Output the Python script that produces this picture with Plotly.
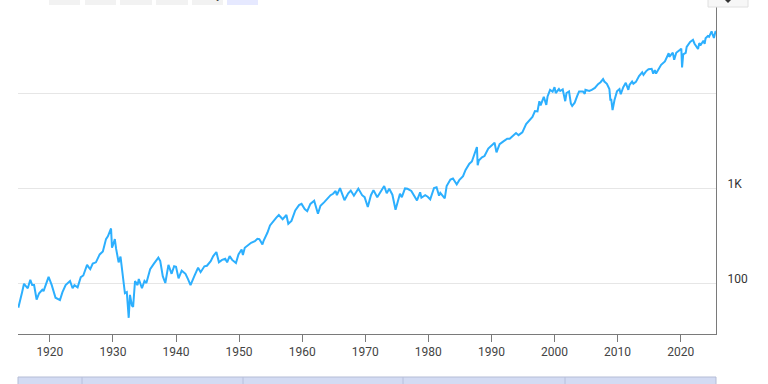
import plotly.graph_objects as go

years = [
    1915.0, 1915.3, 1915.6, 1915.9, 1916.2, 1916.5, 1916.9, 1917.2, 1917.5, 1917.9,
    1918.3, 1918.8, 1919.0, 1919.5, 1919.8, 1920.3, 1920.9, 1921.6, 1922.0, 1922.5,
    1922.9, 1923.2, 1923.6, 1923.9, 1924.4, 1924.9, 1925.3, 1925.9, 1926.2, 1926.4,
    1926.8, 1927.3, 1927.9, 1928.4, 1928.9, 1929.2, 1929.7, 1929.85, 1930.0, 1930.3,
    1930.5, 1930.9, 1931.2, 1931.5, 1931.9, 1932.2, 1932.5, 1932.7, 1933.0, 1933.2,
    1933.5, 1933.9, 1934.1, 1934.6, 1935.0, 1935.3, 1935.9, 1936.5, 1937.2, 1937.5,
    1937.9, 1938.3, 1938.8, 1939.3, 1939.7, 1940.0, 1940.4, 1940.9, 1941.5, 1941.9,
    1942.3, 1942.9, 1943.5, 1943.9, 1944.5, 1944.9, 1945.5, 1945.9, 1946.4, 1946.8,
    1947.3, 1947.8, 1948.1, 1948.5, 1948.9, 1949.5, 1949.9, 1950.4, 1950.6, 1950.9,
    1951.5, 1951.9, 1952.5, 1952.9, 1953.2, 1953.7, 1953.9, 1954.5, 1954.9, 1955.5,
    1955.9, 1956.3, 1956.9, 1957.5, 1957.8, 1958.3, 1958.9, 1959.5, 1959.9, 1960.4,
    1960.8, 1961.3, 1961.9, 1962.5, 1962.9, 1963.5, 1963.9, 1964.5, 1964.9, 1965.3,
    1965.5, 1966.0, 1966.7, 1967.3, 1967.7, 1968.2, 1968.9, 1969.5, 1969.9, 1970.4,
    1970.9, 1971.3, 1971.9, 1972.5, 1973.0, 1973.4, 1973.8, 1974.3, 1974.8, 1975.5,
    1975.8, 1976.3, 1976.7, 1977.3, 1977.9, 1978.2, 1978.7, 1978.9, 1979.5, 1979.9,
    1980.3, 1980.9, 1981.3, 1981.7, 1981.9, 1982.6, 1982.9, 1983.5, 1983.9, 1984.5,
    1984.9, 1985.5, 1985.9, 1986.5, 1986.9, 1987.3, 1987.7, 1987.82, 1988.0, 1988.5,
    1988.9, 1989.5, 1989.9, 1990.5, 1990.8, 1991.3, 1991.9, 1992.5, 1992.9, 1993.5,
    1993.9, 1994.3, 1994.9, 1995.5, 1995.9, 1996.5, 1996.9, 1997.3, 1997.6, 1997.8,
    1998.3, 1998.7, 1998.9, 1999.3, 1999.7, 2000.0, 2000.2, 2000.7, 2000.9, 2001.3,
    2001.7, 2001.9, 2002.3, 2002.6, 2002.8, 2003.2, 2003.6, 2003.9, 2004.5, 2004.8,
    2004.9, 2005.5, 2005.9, 2006.4, 2006.9, 2007.3, 2007.7, 2007.9, 2008.3, 2008.7,
    2008.85, 2009.0, 2009.2, 2009.5, 2009.9, 2010.3, 2010.5, 2010.9, 2011.3, 2011.7,
    2011.9, 2012.3, 2012.5, 2012.9, 2013.4, 2013.9, 2014.1, 2014.5, 2014.9, 2015.4,
    2015.65, 2015.9, 2016.1, 2016.5, 2016.9, 2017.5, 2017.9, 2018.1, 2018.2, 2018.75,
    2018.97, 2019.3, 2019.9, 2020.1, 2020.22, 2020.4, 2020.8, 2020.95, 2021.5, 2021.95,
    2022.2, 2022.45, 2022.75, 2022.95, 2023.2, 2023.6, 2023.8, 2023.95, 2024.3, 2024.5,
    2024.9, 2025.0, 2025.27, 2025.5, 2025.6,
]
dow = [
    55, 65, 80, 98, 92, 88, 108, 95, 95, 67,
    78, 85, 82, 105, 116, 95, 70, 66, 80, 95,
    100, 105, 88, 95, 90, 115, 120, 155, 145, 140,
    160, 165, 200, 215, 290, 310, 375, 235, 250, 290,
    230, 165, 190, 130, 78, 80, 43, 75, 58, 56,
    105, 95, 110, 88, 105, 100, 140, 160, 185, 170,
    118, 100, 155, 125, 150, 148, 112, 135, 125, 110,
    95, 118, 145, 130, 150, 152, 170, 192, 212, 165,
    175, 180, 165, 192, 175, 162, 200, 225, 197, 235,
    250, 265, 275, 292, 290, 255, 280, 340, 404, 460,
    488, 520, 470, 520, 420, 450, 580, 660, 680, 600,
    570, 680, 735, 535, 650, 710, 760, 840, 870, 930,
    840, 995, 745, 880, 940, 830, 985, 840, 800, 630,
    840, 950, 800, 930, 1050, 880, 980, 850, 590, 870,
    800, 990, 980, 930, 800, 740, 900, 790, 840, 810,
    760, 1000, 1020, 830, 890, 777, 1050, 1230, 1260, 1090,
    1210, 1330, 1550, 1800, 1900, 2300, 2700, 1740, 1950, 2100,
    2170, 2600, 2750, 2990, 2370, 2900, 3100, 3300, 3300, 3550,
    3790, 3600, 3850, 4700, 5100, 5600, 6450, 6400, 8200, 7400,
    9100, 7500, 9200, 10800, 10300, 11500, 10000, 11000, 10500, 10900,
    8200, 10000, 10400, 7700, 7300, 7900, 9300, 10400, 10400, 9800,
    10800, 10500, 10800, 11300, 12400, 13000, 14000, 13200, 12500, 11000,
    8500, 8500, 6600, 8400, 10400, 11000, 9700, 11500, 12800, 10800,
    12200, 13200, 12500, 13100, 15100, 16500, 15500, 16900, 17800, 18000,
    16000, 17400, 16000, 18000, 19800, 21500, 24700, 26200, 24000, 26600,
    22400, 26500, 28500, 29300, 18600, 25500, 26500, 30600, 34500, 36300,
    33000, 31000, 29000, 33500, 32200, 35500, 33000, 37700, 39800, 39000,
    44500, 42500, 38000, 44000, 44500,
]

y_tick_vals = [100, 1000, 10000]
y_tick_text = ["100", "1K", ""]
x_tick_vals = [1920, 1930, 1940, 1950, 1960, 1970, 1980, 1990, 2000, 2010, 2020]
x_tick_text = [str(v) for v in x_tick_vals]
buttons = ["1m", "3m", "6m", "YTD", "1y", "All"]

W, H = 768, 384
L, R, T, B = 18, 52, 0, 50
PW, PH = W - L - R, H - T - B


def px(xp):
    return (xp - L) / PW


def py(yp):
    return (H - B - yp) / PH


fig = go.Figure()
fig.add_trace(go.Scatter(
    x=years, y=dow, mode="lines",
    line=dict(color="#2caffe", width=2),
    hoverinfo="skip", showlegend=False,
))

shapes = []
# navigator
shapes.append(dict(type="rect", xref="paper", yref="paper",
                   x0=px(18), x1=px(716), y0=py(377), y1=py(392),
                   fillcolor="#d3dbf3", line=dict(color="#b5bdd6", width=1), layer="above"))
for xp in [82, 243, 403, 565]:
    shapes.append(dict(type="line", xref="paper", yref="paper",
                       x0=px(xp), x1=px(xp), y0=py(377), y1=py(392),
                       line=dict(color="#b8c0dc", width=1)))
# range selector buttons (cut off at top)
bx = [(49, 80), (85, 116), (120, 152), (156, 188), (192, 223), (227, 258)]
for i, (a, b) in enumerate(bx):
    shapes.append(dict(type="rect", xref="paper", yref="paper",
                       x0=px(a), x1=px(b), y0=py(5), y1=py(-20),
                       fillcolor="#e6e9ff" if i == 5 else "#f2f2f2",
                       line=dict(width=0), layer="above"))
# export button
shapes.append(dict(type="rect", xref="paper", yref="paper",
                   x0=px(708), x1=px(748), y0=py(7), y1=py(-20),
                   fillcolor="#f7f7f7", line=dict(color="#e0e0e0", width=1), layer="above"))
shapes.append(dict(type="path", xref="paper", yref="paper",
                   path=f"M {px(725)} {py(0)} L {px(731)} {py(0)} L {px(728)} {py(3)} Z",
                   fillcolor="#333333", line=dict(width=0), layer="above"))

annotations = [dict(text="Zoom", xref="paper", yref="paper", x=px(31), y=py(-4),
                    yanchor="middle", showarrow=False,
                    font=dict(size=11, color="#666666", family="Roboto"))]
for (a, b), t in zip(bx, buttons):
    annotations.append(dict(text=t, xref="paper", yref="paper", x=px((a + b) / 2), y=py(-4),
                            yanchor="middle", showarrow=False,
                            font=dict(size=11, color="#333333", family="Roboto")))

fig.update_layout(
    width=W, height=H,
    margin=dict(l=L, r=R, t=T, b=B),
    paper_bgcolor="white", plot_bgcolor="white",
    font=dict(family="Roboto", size=12, color="#333333"),
    shapes=shapes, annotations=annotations,
    xaxis=dict(
        range=[1914.95, 2025.6], tickvals=x_tick_vals, ticktext=x_tick_text,
        showgrid=False, zeroline=False, showline=True, linecolor="#7a7a7a", linewidth=1,
        ticks="outside", ticklen=7, tickcolor="#7a7a7a",
        tickfont=dict(size=12, color="#444444", family="Roboto"),
    ),
    yaxis=dict(
        type="log", range=[1.4632, 4.9789], side="right",
        tickvals=y_tick_vals, ticktext=y_tick_text,
        showgrid=True, gridcolor="#e6e6e6", gridwidth=1,
        zeroline=False, showline=True, linecolor="#7a7a7a", linewidth=1,
        ticks="outside", ticklen=8, tickcolor="rgba(0,0,0,0)",
        ticklabelshift=-4,
        tickfont=dict(size=12, color="#333333", family="Roboto"),
    ),
)

fig.write_html("out.html", config={"displayModeBar": False},
               post_script="document.body.style.margin='0';")
